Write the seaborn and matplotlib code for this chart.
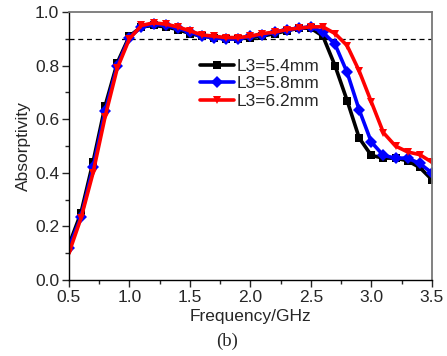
import numpy as np
import pandas as pd
import matplotlib
matplotlib.use("Agg")
import matplotlib.pyplot as plt
import seaborn as sns
from matplotlib.ticker import MultipleLocator

# data (0.1 GHz steps)
freq = [0.5, 0.6, 0.7, 0.8, 0.9, 1.0, 1.1, 1.2, 1.3, 1.4, 1.5, 1.6, 1.7, 1.8, 1.9, 2.0,
        2.1, 2.2, 2.3, 2.4, 2.5, 2.6, 2.7, 2.8, 2.9, 3.0, 3.1, 3.2, 3.3, 3.4, 3.5]

l3_54 = [0.13, 0.25, 0.44, 0.65, 0.81, 0.91, 0.945, 0.95, 0.945, 0.935, 0.92, 0.91, 0.905, 0.90, 0.90, 0.905,
         0.91, 0.92, 0.93, 0.94, 0.94, 0.91, 0.80, 0.67, 0.53, 0.465, 0.455, 0.455, 0.445, 0.42, 0.375]
l3_58 = [0.12, 0.235, 0.42, 0.63, 0.80, 0.905, 0.945, 0.955, 0.95, 0.94, 0.925, 0.91, 0.905, 0.90, 0.90, 0.91,
         0.915, 0.925, 0.935, 0.94, 0.945, 0.925, 0.88, 0.775, 0.635, 0.515, 0.465, 0.455, 0.455, 0.435, 0.40]
l3_62 = [0.10, 0.23, 0.40, 0.61, 0.79, 0.90, 0.95, 0.96, 0.955, 0.945, 0.93, 0.915, 0.91, 0.905, 0.905, 0.91,
         0.92, 0.925, 0.935, 0.94, 0.945, 0.945, 0.92, 0.875, 0.78, 0.665, 0.55, 0.50, 0.478, 0.468, 0.44]

labels = ["L3=5.4mm", "L3=5.8mm", "L3=6.2mm"]
threshold = 0.9

df = pd.DataFrame({
    "Frequency": freq * 3,
    "Absorptivity": l3_54 + l3_58 + l3_62,
    "L3": [labels[0]] * len(freq) + [labels[1]] * len(freq) + [labels[2]] * len(freq),
})

sns.set_style("ticks")
plt.rcParams["font.family"] = ["Liberation Sans", "DejaVu Sans"]

fig = plt.figure(figsize=(4.47, 3.56), dpi=100)
ax = fig.add_axes([0.154, 0.2135, 0.812, 0.7525])

ax.axhline(threshold, color="black", lw=0.9, ls=(0, (4, 3)), zorder=1)

sns.lineplot(data=df, x="Frequency", y="Absorptivity", hue="L3", style="L3",
             palette={labels[0]: "black", labels[1]: "#0000ff", labels[2]: "#ff0000"},
             markers={labels[0]: "s", labels[1]: "D", labels[2]: "v"},
             dashes=False, lw=2.6, markersize=6, markeredgewidth=0, ax=ax)

ax.set_xlim(0.5, 3.5)
ax.set_ylim(0.0, 1.0)
ax.xaxis.set_major_locator(MultipleLocator(0.5))
ax.xaxis.set_minor_locator(MultipleLocator(0.25))
ax.yaxis.set_major_locator(MultipleLocator(0.2))
ax.yaxis.set_minor_locator(MultipleLocator(0.1))
ax.tick_params(which="major", direction="out", length=5, width=1, labelsize=12.5, pad=2)
ax.tick_params(which="minor", direction="out", length=3, width=1)

for s in ["left", "bottom"]:
    ax.spines[s].set_color("black")
    ax.spines[s].set_linewidth(1.0)
for s in ["top", "right"]:
    ax.spines[s].set_visible(True)
    ax.spines[s].set_color("#777777")
    ax.spines[s].set_linewidth(1.3)

ax.set_xlabel("Frequency/GHz", fontsize=12.5, labelpad=3)
ax.set_ylabel("Absorptivity", fontsize=12.5, labelpad=3)

ax.legend(loc="upper left", bbox_to_anchor=(0.36, 0.825), frameon=False, fontsize=12.5,
          handlelength=2.0, handletextpad=0.15, labelspacing=0.12, borderpad=0, borderaxespad=0)

fig.text(0.508, 0.04, "(b)", ha="center", va="center", fontsize=13.5,
         family=["Liberation Serif", "DejaVu Serif"])

fig.savefig("out.png", dpi=100)
